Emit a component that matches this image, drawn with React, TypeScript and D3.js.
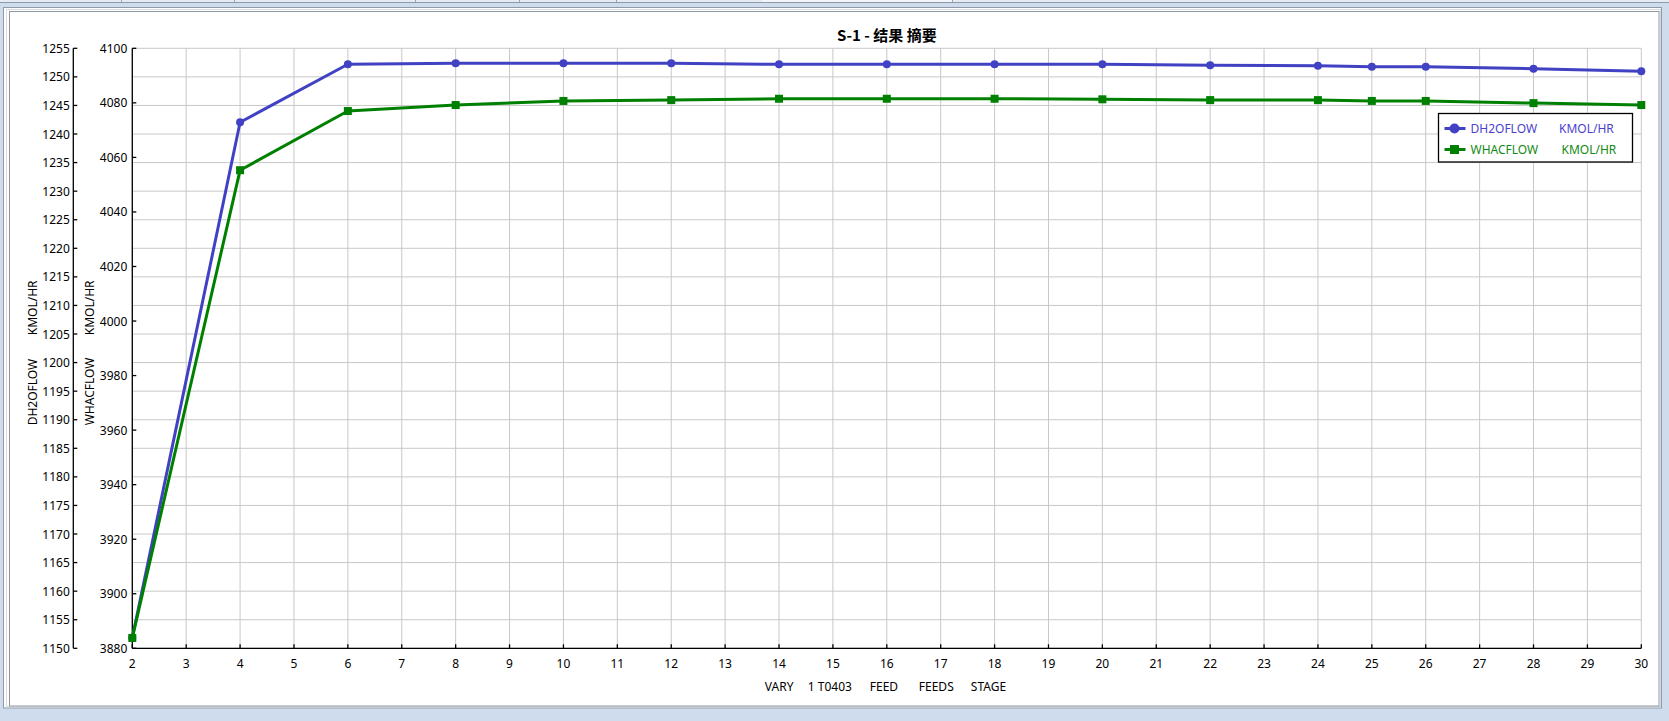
import React from "react";
import * as d3 from "d3";

const stages = [2, 4, 6, 8, 10, 12, 14, 16, 18, 20, 22, 24, 25, 26, 28, 30];
const dh2oFlow = [1151.85, 1242.05, 1252.2, 1252.37, 1252.37, 1252.37, 1252.2, 1252.2, 1252.2, 1252.2, 1252.02, 1251.95, 1251.78, 1251.78, 1251.43, 1250.97];
const whacFlow = [3883.8, 4055.3, 4077.0, 4079.2, 4080.7, 4081.0, 4081.5, 4081.5, 4081.5, 4081.3, 4081.0, 4081.0, 4080.7, 4080.7, 4079.9, 4079.2];
const xTicks = d3.range(2, 31);
const leftTicks = d3.range(1150, 1256, 5);
const rightTicks = d3.range(3880, 4101, 20);
const titleText = "S-1 - 结果 摘要";
const xTitleWords = ["VARY", "1 T0403", "FEED", "FEEDS", "STAGE"];
const xTitleOffsets = [-122, -79, -17, 32, 84];
const seriesNames = ["DH2OFLOW", "WHACFLOW"];
const unitName = "KMOL/HR";
const tabSeparators = [121, 234, 415, 519, 616, 762, 952];

const W = 1669;
const H = 721;
const FONT = "'Noto Sans', 'Open Sans', sans-serif";
const BLUE = "#4141c4";
const GREEN = "#008000";

export default function App() {
  const left = 132.3, right = 1641.3, top = 48.3, bottom = 648.3;
  const leftAxisX = 73.3;
  const x = d3.scaleLinear().domain([2, 30]).range([left, right]);
  const yL = d3.scaleLinear().domain([1150, 1255]).range([bottom, top]);
  const yR = d3.scaleLinear().domain([3880, 4100]).range([bottom, top]);

  const blueLine = d3.line<number>().x((_, i) => x(stages[i])).y((d) => yL(d));
  const greenLine = d3.line<number>().x((_, i) => x(stages[i])).y((d) => yR(d));

  const cx = (left + right) / 2;
  const cy = (top + bottom) / 2;
  const lgX = 1438.5, lgY = 113.5, lgW = 194, lgH = 48.5;

  return (
    <div style={{ position: "absolute", left: 0, top: 0 }}>
      <svg width={W} height={H} style={{ display: "block" }}>
        {/* window chrome */}
        <rect x={0} y={0} width={W} height={H} fill="#cfdcee" />
        <rect x={0} y={0} width={W} height={3} fill="#e4ebf5" />
        {tabSeparators.map((t) => (
          <line key={t} x1={t + 0.5} x2={t + 0.5} y1={0} y2={3} stroke="#9aa6b4" />
        ))}
        <rect x={762} y={0} width={190} height={3} fill="#f2f6fb" />
        <line x1={0} x2={W} y1={2.5} y2={2.5} stroke="#8f9aa6" />
        <rect x={3.5} y={7.5} width={1658} height={700.5} fill="#ffffff" stroke="#8f9aa6" />
        <rect x={6.5} y={9.5} width={1654} height={697} fill="none" stroke="#d6dbe1" />
        <rect x={9.5} y={11.5} width={1649.5} height={694.5} fill="#ffffff" stroke="#8e98a3" />

        {/* title */}
        <text x={cx} y={34} textAnchor="middle" dominantBaseline="central" fontFamily="'Noto Sans CJK SC', 'Noto Sans', sans-serif" fontWeight="bold" fontSize={15} fill="#000" style={{ whiteSpace: "pre" }}>
          {titleText}
        </text>

        {/* grid */}
        {leftTicks.map((t) => (
          <line key={"gh" + t} x1={left} x2={right} y1={yL(t)} y2={yL(t)} stroke="#c8c8c8" strokeWidth={1} />
        ))}
        {xTicks.map((t) => (
          <line key={"gv" + t} x1={x(t)} x2={x(t)} y1={top} y2={bottom} stroke="#c8c8c8" strokeWidth={1} />
        ))}

        {/* left axis (DH2OFLOW) */}
        <line x1={leftAxisX} x2={leftAxisX} y1={top} y2={bottom} stroke="#000" strokeWidth={1.3} />
        {leftTicks.map((t) => (
          <g key={"lt" + t}>
            <line x1={leftAxisX} x2={leftAxisX + 4} y1={yL(t)} y2={yL(t)} stroke="#000" strokeWidth={1.3} />
            <text x={leftAxisX - 3.5} y={yL(t)} textAnchor="end" dominantBaseline="central" fontFamily={FONT} fontSize={12} fill="#000">
              {t}
            </text>
          </g>
        ))}

        {/* WHACFLOW axis */}
        <line x1={left} x2={left} y1={top} y2={bottom} stroke="#000" strokeWidth={1.3} />
        {rightTicks.map((t) => (
          <g key={"rt" + t}>
            <line x1={left} x2={left + 4} y1={yR(t)} y2={yR(t)} stroke="#000" strokeWidth={1.3} />
            <text x={left - 5} y={yR(t)} textAnchor="end" dominantBaseline="central" fontFamily={FONT} fontSize={12} fill="#000">
              {t}
            </text>
          </g>
        ))}

        {/* x axis */}
        <line x1={left} x2={right} y1={bottom} y2={bottom} stroke="#000" strokeWidth={1.3} />
        {xTicks.map((t) => (
          <g key={"xt" + t}>
            <line x1={x(t)} x2={x(t)} y1={bottom} y2={bottom - 4} stroke="#000" strokeWidth={1.3} />
            <text x={x(t)} y={663.5} textAnchor="middle" dominantBaseline="central" fontFamily={FONT} fontSize={12} fill="#000">
              {t}
            </text>
          </g>
        ))}

        {/* axis titles */}
        {xTitleWords.map((w, i) => (
          <text key={w} x={cx + xTitleOffsets[i]} y={686} dominantBaseline="central" fontFamily={FONT} fontSize={12} fill="#000">
            {w}
          </text>
        ))}
        <g transform={`translate(32.5, ${cy + 3}) rotate(-90)`}>
          <text x={-74} y={0} dominantBaseline="central" fontFamily={FONT} fontSize={12} fill="#000">{seriesNames[0]}</text>
          <text x={16} y={0} dominantBaseline="central" fontFamily={FONT} fontSize={12} fill="#000">{unitName}</text>
        </g>
        <g transform={`translate(89, ${cy + 3}) rotate(-90)`}>
          <text x={-74} y={0} dominantBaseline="central" fontFamily={FONT} fontSize={12} fill="#000">{seriesNames[1]}</text>
          <text x={16} y={0} dominantBaseline="central" fontFamily={FONT} fontSize={12} fill="#000">{unitName}</text>
        </g>

        {/* series */}
        <path d={blueLine(dh2oFlow) || ""} fill="none" stroke={BLUE} strokeWidth={3} strokeLinejoin="round" />
        {dh2oFlow.map((v, i) => (
          <circle key={"b" + i} cx={x(stages[i])} cy={yL(v)} r={4} fill={BLUE} />
        ))}
        <path d={greenLine(whacFlow) || ""} fill="none" stroke={GREEN} strokeWidth={3} strokeLinejoin="round" />
        {whacFlow.map((v, i) => (
          <rect key={"g" + i} x={x(stages[i]) - 4} y={yR(v) - 4} width={8} height={8} fill={GREEN} />
        ))}

        {/* legend */}
        <rect x={lgX} y={lgY} width={lgW} height={lgH} fill="#fff" stroke="#000" strokeWidth={1.3} />
        <line x1={lgX + 6} x2={lgX + 27} y1={lgY + 15} y2={lgY + 15} stroke={BLUE} strokeWidth={3} />
        <circle cx={lgX + 16} cy={lgY + 15} r={5} fill={BLUE} />
        <text x={lgX + 32} y={lgY + 15} dominantBaseline="central" fontFamily={FONT} fontSize={12} fill="#4b3fd0">{seriesNames[0]}</text>
        <text x={lgX + 120.5} y={lgY + 15} dominantBaseline="central" fontFamily={FONT} fontSize={12} fill="#4b3fd0">{unitName}</text>
        <line x1={lgX + 6} x2={lgX + 27} y1={lgY + 36} y2={lgY + 36} stroke={GREEN} strokeWidth={3} />
        <rect x={lgX + 11.5} y={lgY + 31.5} width={9} height={9} fill={GREEN} />
        <text x={lgX + 32} y={lgY + 36} dominantBaseline="central" fontFamily={FONT} fontSize={12} fill="#138a13">{seriesNames[1]}</text>
        <text x={lgX + 123} y={lgY + 36} dominantBaseline="central" fontFamily={FONT} fontSize={12} fill="#138a13">{unitName}</text>
      </svg>
    </div>
  );
}
